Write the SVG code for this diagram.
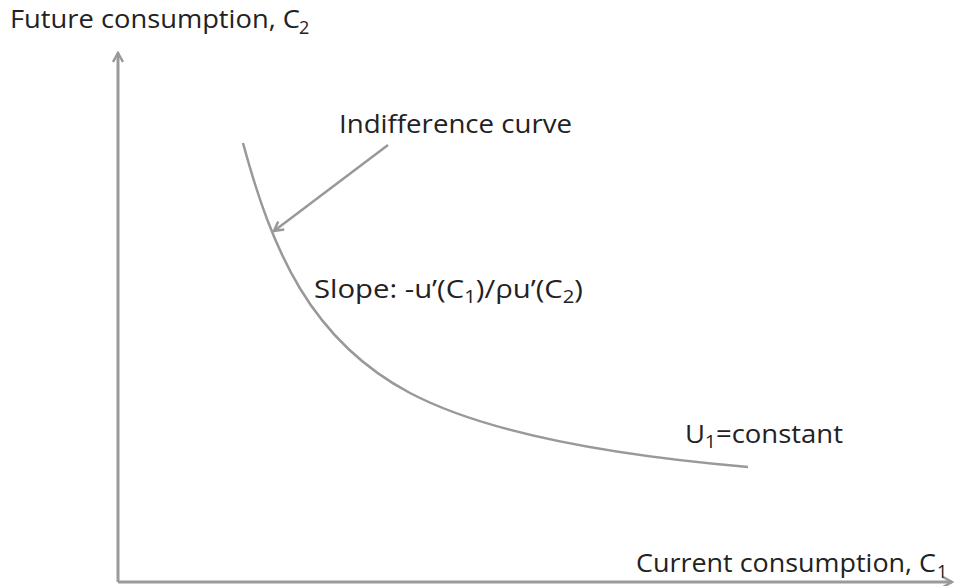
<svg xmlns="http://www.w3.org/2000/svg" width="954" height="586" viewBox="0 0 954 586">
<style>
.t{font-family:"Open Sans","Liberation Sans",sans-serif;font-size:26px;fill:#222}
.s{font-size:18px}
.ax{stroke:#9a9a9a;stroke-width:3;fill:none}
.ln{stroke:#999;stroke-width:2.5;fill:none}
</style>
<defs>
<marker id="ah" viewBox="0 0 12 12" refX="10" refY="6" markerWidth="12" markerHeight="12" markerUnits="userSpaceOnUse" orient="auto">
<path d="M1,1 L10,6 L1,11" fill="none" stroke="#999" stroke-width="2.5"/>
</marker>
</defs>
<rect width="954" height="586" fill="#fff"/>
<g id="connectors">
<path class="ax" d="M118,582 L118,53" marker-end="url(#ah)"/>
<path class="ax" d="M118,582 L952,582" marker-end="url(#ah)"/>
<path id="curve" class="ln" d="M243,143 C272,250 310,340 410,393 C490,435 620,456 748,467"/>
<path class="ln" d="M388,145 L274,231" marker-end="url(#ah)"/>
</g>
<g id="yLabel"><text class="t" x="10" y="28" textLength="290" lengthAdjust="spacingAndGlyphs">Future consumption, C</text><text class="t s" x="299" y="34">2</text></g>
<g id="xLabel"><text class="t" x="636" y="572" textLength="300" lengthAdjust="spacingAndGlyphs">Current consumption, C</text><text class="t s" x="937" y="578">1</text></g>
<g id="icLabel"><text class="t" x="339" y="133" textLength="233" lengthAdjust="spacingAndGlyphs">Indifference curve</text></g>
<g id="slopeLabel"><text class="t" x="314" y="298" textLength="269" lengthAdjust="spacingAndGlyphs">Slope: -u’(C<tspan class="s" dy="5">1</tspan><tspan dy="-5">)/ρu’(C</tspan><tspan class="s" dy="5">2</tspan><tspan dy="-5">)</tspan></text></g>
<g id="uLabel"><text class="t" x="685" y="443" textLength="158" lengthAdjust="spacingAndGlyphs">U<tspan class="s" dy="5">1</tspan><tspan dy="-5">=constant</tspan></text></g>
</svg>
